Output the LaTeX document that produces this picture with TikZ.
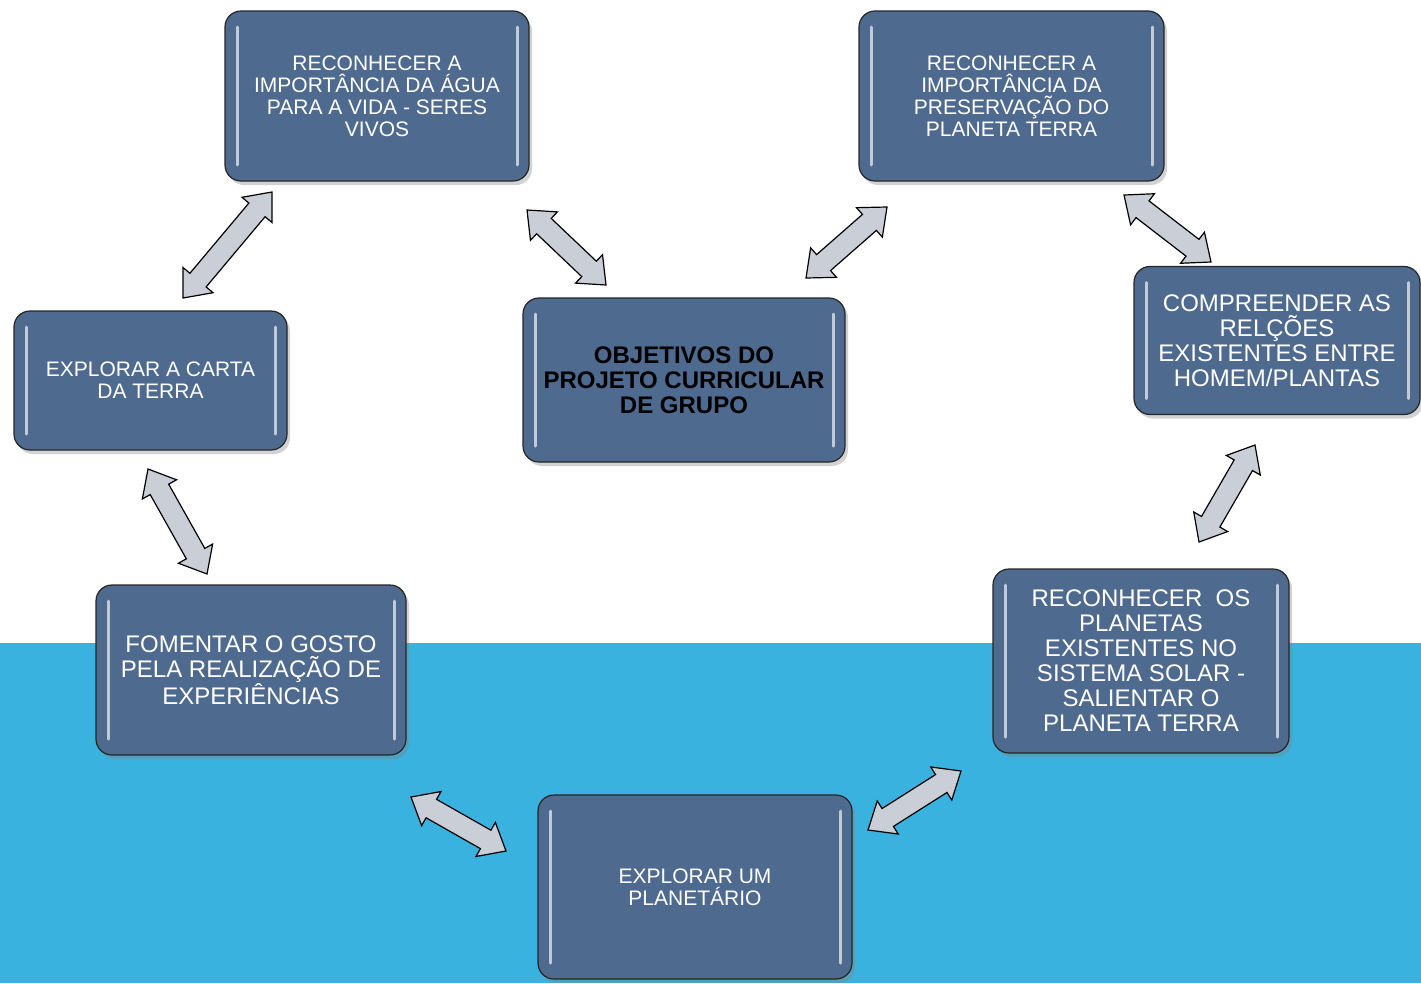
\documentclass[tikz,border=0pt]{standalone}
\usepackage{fontspec}
\setmainfont{Liberation Sans}
\usetikzlibrary{shapes.arrows,shadows,calc}

\definecolor{boxblue}{HTML}{4F6A8F}
\definecolor{seablue}{HTML}{39B2DF}
\definecolor{arrowgray}{HTML}{C9CED7}

\begin{document}
\begin{tikzpicture}[x=1pt,y=-1pt,
  goal/.style={draw=black!85, line width=1.2pt, fill=boxblue, rounded corners=16pt,
    text=white, align=center, inner sep=0pt,
    drop shadow={shadow xshift=3pt,shadow yshift=-4pt,opacity=0.35},
    path picture={
      \draw[white!65!boxblue, line width=3pt, line cap=round]
        ([xshift=12pt,yshift=-16pt]path picture bounding box.north west) --
        ([xshift=12pt,yshift=16pt]path picture bounding box.south west)
        ([xshift=-12pt,yshift=-16pt]path picture bounding box.north east) --
        ([xshift=-12pt,yshift=16pt]path picture bounding box.south east);}},
  small/.style={font=\fontsize{21}{22}\selectfont},
  big/.style={font=\fontsize{24}{25}\selectfont},
  link/.style={double arrow, draw=black, line width=1.2pt, fill=arrowgray,
    inner sep=10pt, double arrow head extend=9pt,
    double arrow tip angle=80}]
\useasboundingbox (0,0) rectangle (1421,983);
\fill[white] (0,0) rectangle (1421,983);
\fill[seablue] (0,643) rectangle (1421,983);

% objectives
\node[goal, small, minimum width=304pt, minimum height=170pt] (agua) at (377,96)
  {RECONHECER A\\IMPORTÂNCIA DA ÁGUA\\PARA A VIDA - SERES\\VIVOS};
\node[goal, small, minimum width=305pt, minimum height=170pt] (terra) at (1011.5,96)
  {RECONHECER A\\IMPORTÂNCIA DA\\PRESERVAÇÃO DO\\PLANETA TERRA};
\node[goal, big, text=black, font=\fontsize{24}{25}\selectfont\bfseries,
  minimum width=322pt, minimum height=164pt] (centro) at (684,380)
  {OBJETIVOS DO\\PROJETO CURRICULAR\\DE GRUPO};
\node[goal, small, minimum width=273pt, minimum height=139pt] (carta) at (150.5,380.5)
  {EXPLORAR A CARTA\\DA TERRA};
\node[goal, big, minimum width=286pt, minimum height=148pt] (plantas) at (1277,340.5)
  {COMPREENDER AS\\RELÇÕES\\EXISTENTES ENTRE\\HOMEM/PLANTAS};
\node[goal, big, minimum width=310pt, minimum height=170pt] (gosto) at (251,670)
  {FOMENTAR O GOSTO\\PELA REALIZAÇÃO DE\\EXPERIÊNCIAS};
\node[goal, big, minimum width=296pt, minimum height=184pt] (planetas) at (1141,661)
  {RECONHECER\ \ OS\\PLANETAS\\EXISTENTES NO\\SISTEMA SOLAR -\\SALIENTAR O\\PLANETA TERRA};
\node[goal, small, minimum width=314pt, minimum height=184pt] (planetario) at (695,887)
  {EXPLORAR UM\\PLANETÁRIO};

% arrow ends
\coordinate (a1) at (183,298); \coordinate (a2) at (272,192);
\coordinate (b1) at (527,210); \coordinate (b2) at (606,285);
\coordinate (c1) at (806,278); \coordinate (c2) at (887,207);
\coordinate (d1) at (1124,195); \coordinate (d2) at (1211,262);
\coordinate (e1) at (1255,445); \coordinate (e2) at (1199,542);
\coordinate (f1) at (148,469); \coordinate (f2) at (207,574);
\coordinate (g1) at (411,797); \coordinate (g2) at (506,851);
\coordinate (h1) at (868,830); \coordinate (h2) at (961,771);

\foreach \s in {a,b,c,d,e,f,g,h}
  \path let \p1=($(\s2)-(\s1)$), \n1={atan2(\y1,\x1)}, \n2={veclen(\x1,\y1)} in
    node[link, minimum height=\n2, rotate=\n1] at ($(\s1)!0.5!(\s2)$) {};
\end{tikzpicture}
\end{document}
